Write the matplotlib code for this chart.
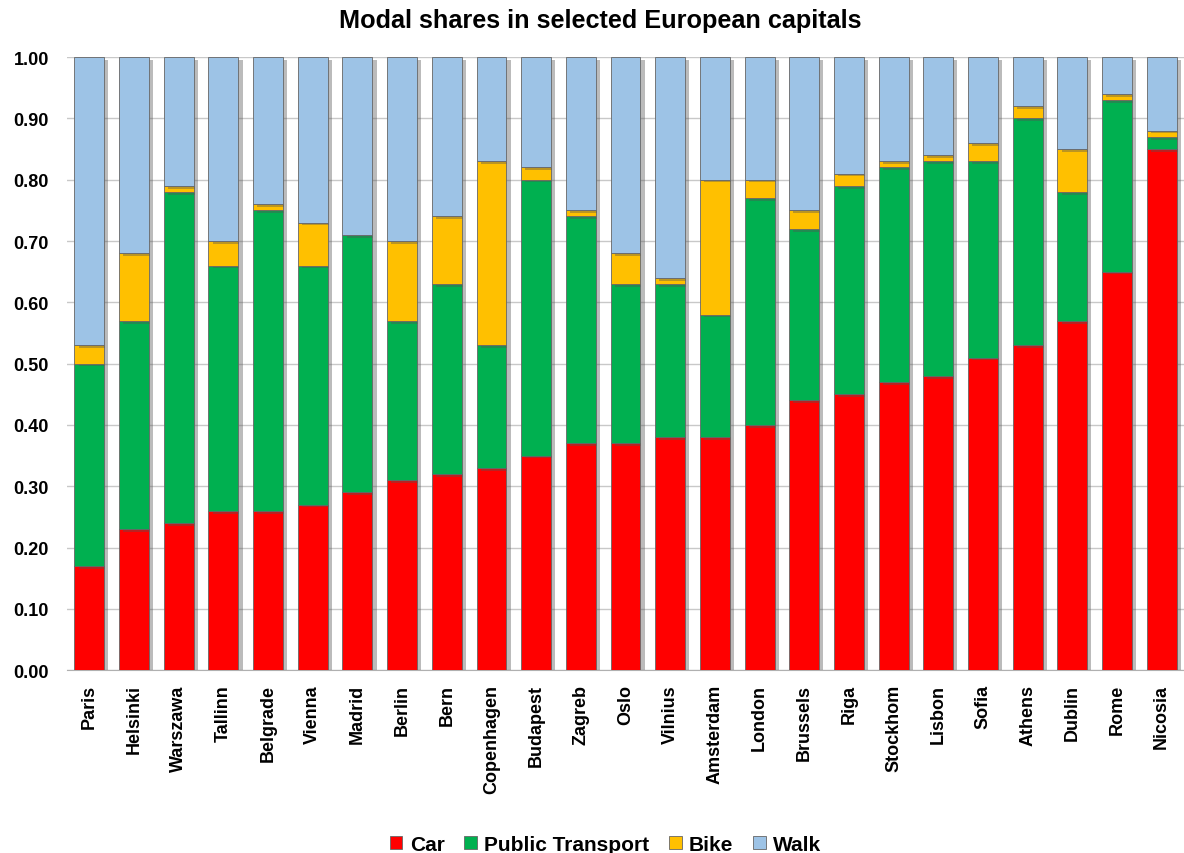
import numpy as np
import matplotlib
matplotlib.use("Agg")
import matplotlib.pyplot as plt
import matplotlib.patheffects as pe

cities = ["Paris", "Helsinki", "Warszawa", "Tallinn", "Belgrade", "Vienna", "Madrid",
          "Berlin", "Bern", "Copenhagen", "Budapest", "Zagreb", "Oslo", "Vilnius",
          "Amsterdam", "London", "Brussels", "Riga", "Stockhom", "Lisbon", "Sofia",
          "Athens", "Dublin", "Rome", "Nicosia"]
car = [0.17, 0.23, 0.24, 0.26, 0.26, 0.27, 0.29, 0.31, 0.32, 0.33, 0.35, 0.37, 0.37,
       0.38, 0.38, 0.40, 0.44, 0.45, 0.47, 0.48, 0.51, 0.53, 0.57, 0.65, 0.85]
public_transport = [0.33, 0.34, 0.54, 0.40, 0.49, 0.39, 0.42, 0.26, 0.31, 0.20, 0.45,
                    0.37, 0.26, 0.25, 0.20, 0.37, 0.28, 0.34, 0.35, 0.35, 0.32, 0.37,
                    0.21, 0.28, 0.02]
bike = [0.03, 0.11, 0.01, 0.04, 0.01, 0.07, 0.00, 0.13, 0.11, 0.30, 0.02, 0.01, 0.05,
        0.01, 0.22, 0.03, 0.03, 0.02, 0.01, 0.01, 0.03, 0.02, 0.07, 0.01, 0.01]
walk = [0.47, 0.32, 0.21, 0.30, 0.24, 0.27, 0.29, 0.30, 0.26, 0.17, 0.18, 0.25, 0.32,
        0.36, 0.20, 0.20, 0.25, 0.19, 0.17, 0.16, 0.14, 0.08, 0.15, 0.06, 0.12]

series = [("Car", car, "#FF0000"),
          ("Public Transport", public_transport, "#00B050"),
          ("Bike", bike, "#FFC000"),
          ("Walk", walk, "#9DC3E6")]

plt.rcParams["font.family"] = ["Liberation Sans", "DejaVu Sans"]
plt.rcParams["font.weight"] = "bold"

fig, ax = plt.subplots(figsize=(11.84, 8.54), dpi=100)
fig.subplots_adjust(left=0.0566, right=1.0, top=0.932, bottom=0.214)

shadow = [pe.SimplePatchShadow(offset=(3, -2), shadow_rgbFace="#555555", alpha=0.4),
          pe.Normal()]

x = np.arange(len(cities))
bottom = np.zeros(len(cities))
for name, vals, col in series:
    vals = np.array(vals)
    bars = ax.bar(x, vals, 0.67, bottom=bottom, color=col, edgecolor="#666666",
                  linewidth=0.6, label=name, zorder=3)
    for b in bars:
        b.set_path_effects(shadow)
    bottom += vals

ax.set_xlim(-0.5, len(cities) - 0.5)
ax.set_ylim(0, 1.0)
ax.set_yticks(np.arange(0, 1.01, 0.1))
ax.set_yticklabels([f"{v:.2f}" for v in np.arange(0, 1.01, 0.1)], fontsize=13, fontweight="bold")
ax.set_xticks(x)
ax.set_xticklabels(cities, rotation=90, fontsize=13, fontweight="bold")
ax.tick_params(axis="x", length=0, pad=10)
ax.tick_params(axis="y", length=0, pad=13)
ax.grid(axis="y", color="#c8c8c8", linewidth=1, zorder=0)
ax.set_axisbelow(True)
for s in ["top", "right", "left"]:
    ax.spines[s].set_visible(False)
ax.spines["bottom"].set_color("#b0b0b0")

fig.text(0.507, 0.975, "Modal shares in selected European capitals", fontsize=18.2,
         fontweight="bold", ha="center", va="center")
leg = ax.legend(loc="lower center", bbox_to_anchor=(0.482, -0.33), ncol=4, frameon=False,
                fontsize=15, handlelength=0.6, handleheight=0.6, columnspacing=0.95,
                handletextpad=0.35)
for h in leg.legend_handles:
    h.set_path_effects([])

fig.savefig("out.png", dpi=100)
